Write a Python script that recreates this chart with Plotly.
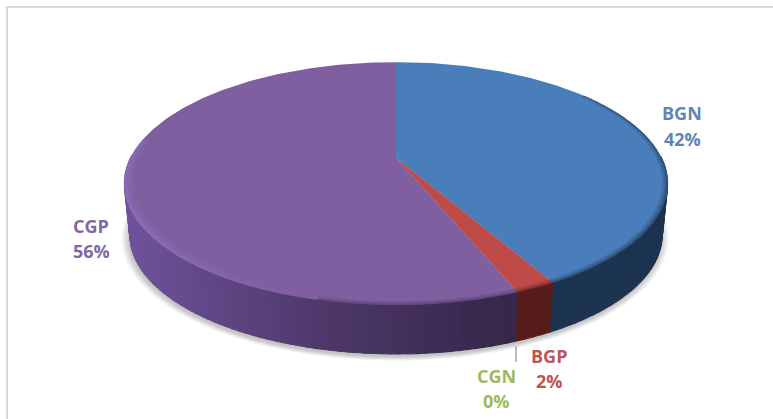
import math
import plotly.graph_objects as go

categories = ["BGN", "BGP", "CGN", "CGP"]
values = [42, 2, 0, 56]
percent_labels = ["42%", "2%", "0%", "56%"]
top_colors = ["#4a7ebb", "#be4b48", "#9bbb59", "#7f5f9f"]
text_colors = ["#5f86b5", "#bd5457", "#9bbb59", "#7f6a9f"]

W, H = 773, 419
CX, CY = 396, 158
B, A, P = 265.5, 116, 0.21
DROP_Y, DROP_S = 210, 0.98


def top_pt(t, r=1.0):
    w = 1 + P * r * math.sin(t)
    return CX + B * r * math.cos(t) / w, CY - A * r * math.sin(t) / w


def bot_pt(t):
    w = 1 + P * math.sin(t)
    return CX + DROP_S * B * math.cos(t) / w, DROP_Y - DROP_S * A * math.sin(t) / w


def mix(c1, c2, f):
    f = max(0.0, min(1.0, f))
    a = [int(c1[i:i + 2], 16) for i in (1, 3, 5)]
    b = [int(c2[i:i + 2], 16) for i in (1, 3, 5)]
    return "rgb(%d,%d,%d)" % tuple(round(a[i] + (b[i] - a[i]) * f) for i in range(3))


def steps(a, b, deg=1.5):
    n = max(1, int(abs(b - a) / math.radians(deg)))
    return [a + (b - a) * i / n for i in range(n + 1)]


def poly(fig, pts, color, line=1.2):
    xs = [p[0] for p in pts] + [pts[0][0]]
    ys = [p[1] for p in pts] + [pts[0][1]]
    fig.add_trace(go.Scatter(
        x=xs, y=ys, mode="lines", fill="toself", fillcolor=color,
        line=dict(color=color, width=line), hoverinfo="skip", showlegend=False,
    ))


total = sum(values)
spans = []
acc = 0.0
for v in values:
    start = math.pi / 2 - 2 * math.pi * acc / total
    acc += v
    spans.append((start, math.pi / 2 - 2 * math.pi * acc / total))

fig = go.Figure()

# soft shadow
circle = steps(0, 2 * math.pi, 3)
for i in range(10):
    g = 1 + i * 0.0032
    pts = [(CX + (bot_pt(t)[0] - CX) * g - 1, DROP_Y + 3 + (bot_pt(t)[1] - DROP_Y) * g) for t in circle]
    poly(fig, pts, "rgba(0,0,0,0.025)", line=0)

# side wall
side_dark = {"BGN": ("#1d3450", "#1d3450"), "BGP": ("#561d1b", "#561d1b"),
             "CGP": ("#37274a", "#6f529a")}
for (s, e), name in zip(spans, categories):
    if name == "CGN":
        continue
    seq = steps(s, e)
    for t0, t1 in zip(seq[:-1], seq[1:]):
        if math.sin((t0 + t1) / 2) > 0.02:
            continue
        x_mid = top_pt((t0 + t1) / 2)[0]
        f = ((520 - x_mid) / 390) ** 1.3 if x_mid < 520 else 0
        poly(fig, [top_pt(t0), top_pt(t1), bot_pt(t1), bot_pt(t0)], mix(*side_dark[name], f))

# top face
for (s, e), name, c in zip(spans, categories, top_colors):
    if name == "CGN":
        continue
    poly(fig, [(CX, CY)] + [top_pt(t) for t in steps(s, e, 1)], c, line=0)

# rim bevel
wide = [(1.0, 0.990), (0.990, 0.980), (0.980, 0.968)]
narrow = [(1.0, 0.994), (0.994, 0.988), (0.988, 0.982)]
dark_edge = {"BGN": "#1d3450", "BGP": "#561d1b", "CGP": "#4a3560"}
for (s, e), name, c in zip(spans, categories, top_colors):
    if name == "CGN":
        continue
    seq = steps(s, e, 2.5)
    for t0, t1 in zip(seq[:-1], seq[1:]):
        tm = (t0 + t1) / 2
        left = name == "CGP" and math.cos(tm) < -0.25
        if left and math.sin(tm) > 0.15:
            continue
        if not left and math.sin(tm) > 0.6:
            continue
        if name == "CGP" and not left and math.sin(tm) > 0:
            continue
        for k, (r0, r1) in enumerate(wide if left else narrow):
            strength = (3 - k) / 3
            if left:
                col = mix(c, "#8f74c4", 0.6 * strength * min(1, (-math.cos(tm) - 0.25) * 2))
            else:
                col = mix(c, dark_edge[name], 0.6 * strength)
            poly(fig, [top_pt(t0, r0), top_pt(t1, r0), top_pt(t1, r1), top_pt(t0, r1)], col, line=0.5)

# labels, one annotation per text line
label_pos = {"BGN": (682, 113, 139), "BGP": (549, 356, 381), "CGN": (496, 376, 401), "CGP": (91, 226, 251)}
for name, pct, tc in zip(categories, percent_labels, text_colors):
    x, y1, y2 = label_pos[name]
    for txt, y in ((name, y1), (pct, y2)):
        fig.add_annotation(x=x, y=y, xref="x", yref="y", text=f"<b>{txt}</b>", showarrow=False,
                           xanchor="center", yanchor="middle",
                           font=dict(family="Open Sans", size=18, color=tc))

# leader line for the empty slice
fig.add_shape(type="line", x0=516, x1=516, y0=346, y1=362, xref="x", yref="y",
              line=dict(color="#a6a6a6", width=1.5))

# chart frame: only the top and left edges fall inside the picture
fig.add_shape(type="rect", x0=7, x1=800, y0=7, y1=460, xref="x", yref="y",
              line=dict(color="#d9d9d9", width=2), layer="below")

fig.update_layout(
    width=W, height=H, margin=dict(l=0, r=0, t=0, b=0),
    paper_bgcolor="#ffffff", plot_bgcolor="#ffffff", showlegend=False,
    xaxis=dict(range=[0, W], visible=False, fixedrange=True),
    yaxis=dict(range=[H, 0], visible=False, fixedrange=True),
)
fig.write_html("out.html", config={"displayModeBar": False},
               post_script="document.body.style.margin='0';document.documentElement.style.overflow='hidden';")
